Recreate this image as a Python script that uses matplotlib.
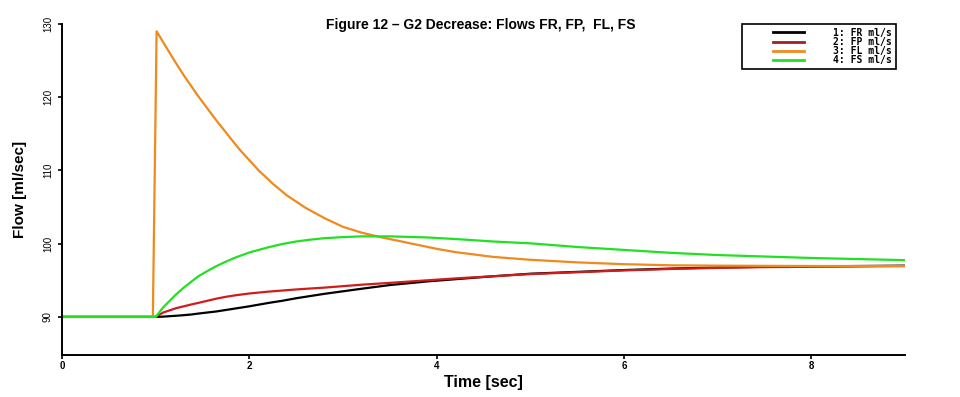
import matplotlib
matplotlib.use("Agg")
import matplotlib.pyplot as plt
from matplotlib.lines import Line2D
from matplotlib.legend_handler import HandlerLine2D

SANS = ['Liberation Sans', 'DejaVu Sans']

# time grid shared by FR, FP, FS
t = [0, 1.0, 1.08, 1.15, 1.22, 1.3, 1.38, 1.45, 1.55, 1.65, 1.75, 1.85, 2.0,
     2.2, 2.35, 2.5, 2.65, 2.8, 3.0, 3.2, 3.5, 3.9, 4.25, 4.6, 5.0, 5.5, 6.0,
     6.5, 7.0, 7.5, 8.0, 8.5, 9.0]
fr = [90, 90, 90.04, 90.1, 90.16, 90.24, 90.33, 90.45, 90.6, 90.75, 90.95,
      91.15, 91.45, 91.9, 92.2, 92.55, 92.85, 93.15, 93.5, 93.85, 94.35, 94.85,
      95.2, 95.55, 95.9, 96.15, 96.4, 96.6, 96.75, 96.85, 96.9, 96.95, 97.0]
fp = [90, 90, 90.6, 90.9, 91.2, 91.45, 91.7, 91.9, 92.2, 92.5, 92.75, 92.95,
      93.2, 93.45, 93.6, 93.75, 93.88, 94.0, 94.2, 94.4, 94.65, 95.0, 95.3,
      95.55, 95.85, 96.1, 96.35, 96.55, 96.7, 96.8, 96.85, 96.9, 96.95]
fs = [90, 90, 91.3, 92.2, 93.1, 94.0, 94.8, 95.5, 96.25, 96.95, 97.55, 98.1,
      98.8, 99.5, 99.95, 100.3, 100.55, 100.75, 100.9, 101.0, 101.0, 100.85,
      100.6, 100.3, 100.05, 99.55, 99.15, 98.75, 98.45, 98.25, 98.05, 97.9,
      97.75]

# FL has its own time points (sharp spike at t=1)
t_fl = [0, 0.97, 1.01, 1.1, 1.2, 1.3, 1.44, 1.55, 1.65, 1.75, 1.83, 1.9, 2.0,
        2.1, 2.25, 2.4, 2.6, 2.8, 3.0, 3.2, 3.4, 3.7, 4.0, 4.2, 4.6, 5.0, 5.5,
        6.0, 6.5, 7.0, 8.0, 9.0]
fl = [90, 90, 129.0, 127.1, 125.0, 123.0, 120.4, 118.5, 116.8, 115.2, 113.9,
      112.8, 111.4, 110.0, 108.2, 106.6, 104.9, 103.5, 102.3, 101.5, 100.9,
      100.1, 99.3, 98.85, 98.2, 97.8, 97.45, 97.2, 97.05, 97.0, 96.95, 96.95]

labels = ["1: FR ml/s", "2: FP ml/s", "3: FL ml/s", "4: FS ml/s"]
xticks = [0, 2, 4, 6, 8]
yticks = [90, 100, 110, 120, 130]

fig = plt.figure(figsize=(9.6, 3.97), dpi=100)
ax = fig.add_axes([62/960, 1 - 355/397, (905 - 62)/960, (355 - 24)/397])

l1, = ax.plot(t, fr, color='black', lw=1.6)
l2, = ax.plot(t, fp, color='#d01c1c', lw=1.6)
l3, = ax.plot(t_fl, fl, color='#ee8a1e', lw=1.6)
l4, = ax.plot(t, fs, color='#22e022', lw=1.6)

ax.set_xlim(0, 9)
ax.set_ylim(84.8, 130)
ax.set_xticks(xticks)
ax.set_yticks(yticks)
for s in ['top', 'right']:
    ax.spines[s].set_visible(False)
for s in ['left', 'bottom']:
    ax.spines[s].set_linewidth(1.4)
ax.tick_params(axis='both', direction='out', length=3, width=1.2, labelsize=7)
ax.tick_params(axis='x', pad=1)
for lab in ax.get_yticklabels():
    lab.set_rotation(90)
    lab.set_va('center')
    lab.set_family(SANS)
for lab in ax.get_xticklabels():
    lab.set_fontweight('bold')
    lab.set_family(SANS)

ax.set_xlabel('Time [sec]', fontsize=11.5, fontweight='bold', family=SANS)
ax.xaxis.set_label_coords(0.5, -(383 - 355)/331, transform=ax.transAxes)
ax.xaxis.label.set_va('center')
ax.set_ylabel('Flow [ml/sec]', fontsize=11, fontweight='bold', family=SANS)
ax.yaxis.set_label_coords(-(62 - 20)/843, 0.5, transform=ax.transAxes)
ax.yaxis.label.set_va('center')

fig.text(481/960, 1 - 25/397, 'Figure 12 \u2013 G2 Decrease: Flows FR, FP,  FL, FS',
         ha='center', va='center', fontsize=10, fontweight='bold', family=SANS)

# legend lines: FP looks darker in the key
h2 = Line2D([], [], color='#a02020', lw=2)
leg = fig.legend([l1, h2, l3, l4], labels, loc='upper right',
                 bbox_to_anchor=(896/960, 1 - 24/397), borderaxespad=0,
                 prop={'size': 7, 'weight': 'bold', 'family': 'DejaVu Sans Mono'},
                 handlelength=6.0, labelspacing=-0.1, handletextpad=3.0,
                 borderpad=0.4, fancybox=False, framealpha=1,
                 edgecolor='black',
                 handler_map={Line2D: HandlerLine2D(xpad=2.8)})
leg.get_frame().set_linewidth(1.2)
for ln in leg.get_lines():
    ln.set_linewidth(2)

fig.savefig('out.png', dpi=100)
